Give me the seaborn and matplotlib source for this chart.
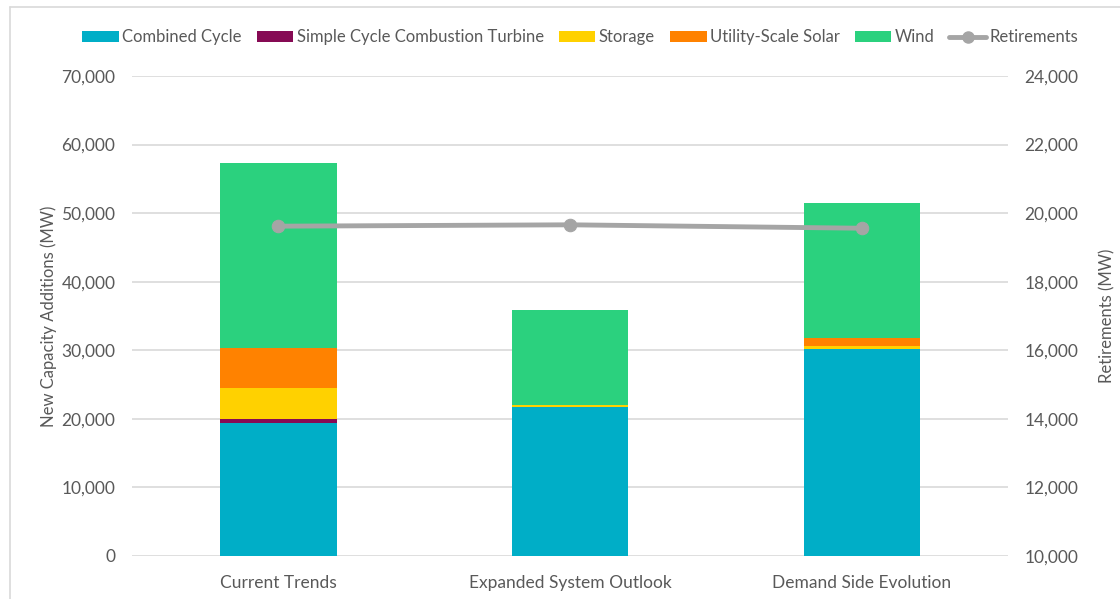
import matplotlib
matplotlib.use("Agg")
import matplotlib.pyplot as plt
import seaborn as sns
import pandas as pd
import numpy as np
from matplotlib.ticker import FuncFormatter
from matplotlib.lines import Line2D
from matplotlib.patches import Patch

categories = ["Current Trends", "Expanded System Outlook", "Demand Side Evolution"]
combined_cycle = [19400, 21650, 30250]
simple_cycle = [550, 0, 0]
storage = [4500, 370, 330]
utility_solar = [5850, 0, 1170]
wind = [27000, 13810, 19730]
retirements = [19620, 19660, 19560]

series_names = ["Combined Cycle", "Simple Cycle Combustion Turbine", "Storage",
                "Utility-Scale Solar", "Wind"]
series_values = [combined_cycle, simple_cycle, storage, utility_solar, wind]
colors = ["#00AEC7", "#860A54", "#FFD100", "#FF8200", "#2BD17E"]
line_color = "#A5A5A5"
text_color = "#595959"

sns.set_theme(style="white")
plt.rcParams["font.family"] = ["Lato", "DejaVu Sans"]

fig = plt.figure(figsize=(11.2, 5.99), dpi=100)
ax = fig.add_axes([0.118, 0.072, 0.782, 0.801])

# cumulative stacks, draw tallest first
cum = np.cumsum(np.array(series_values), axis=0)
for i in range(len(series_names) - 1, -1, -1):
    df = pd.DataFrame({"cat": categories, "val": cum[i]})
    sns.barplot(data=df, x="cat", y="val", color=colors[i], width=0.4,
                saturation=1, ax=ax, zorder=2, edgecolor="none")

ax.set_ylim(0, 70000)
ax.set_xlim(-0.5, 2.5)
ax.set_yticks(np.arange(0, 70001, 10000))
ax.yaxis.set_major_formatter(FuncFormatter(lambda v, p: f"{int(v):,}"))
ax.grid(axis="y", color="#D9D9D9", linewidth=1.2, zorder=0)
ax.set_axisbelow(True)
for s in ax.spines.values():
    s.set_visible(False)
ax.set_xlabel("")
ax.set_ylabel("New Capacity Additions (MW)", fontsize=12, color=text_color, labelpad=3)
ax.tick_params(axis="both", length=0, labelsize=12.5, colors=text_color, pad=12)
ax.tick_params(axis="x", pad=14)

ax2 = ax.twinx()
ldf = pd.DataFrame({"x": [0, 1, 2], "y": retirements})
sns.lineplot(data=ldf, x="x", y="y", ax=ax2, color=line_color, linewidth=3.5,
             marker="o", markersize=9, markeredgecolor=line_color, zorder=5)
ax2.set_ylim(10000, 24000)
ax2.set_yticks(np.arange(10000, 24001, 2000))
ax2.yaxis.set_major_formatter(FuncFormatter(lambda v, p: f"{int(v):,}"))
for s in ax2.spines.values():
    s.set_visible(False)
ax2.set_xlabel("")
ax2.set_ylabel("Retirements (MW)", fontsize=12, color=text_color, labelpad=15)
ax2.tick_params(axis="y", length=0, labelsize=12.5, colors=text_color, pad=12)
ax2.set_xlim(-0.5, 2.5)

handles = [Patch(facecolor=c, edgecolor="none") for c in colors]
handles.append(Line2D([0], [0], color=line_color, linewidth=3.5, marker="o", markersize=8))
labels = series_names + ["Retirements"]
fig.legend(handles, labels, loc="center", bbox_to_anchor=(0.518, 0.938), ncol=6,
           frameon=False, fontsize=12, handlelength=2.2, handleheight=0.6,
           columnspacing=0.9, handletextpad=0.2, labelcolor=text_color)

# outer chart border fragments
fig.add_artist(Line2D([0.009, 0.009], [0.0, 0.988], color="#D9D9D9", linewidth=1.2,
                      transform=fig.transFigure))
fig.add_artist(Line2D([0.009, 1.0], [0.988, 0.988], color="#D9D9D9", linewidth=1.2,
                      transform=fig.transFigure))

fig.savefig("out.png", dpi=100)
